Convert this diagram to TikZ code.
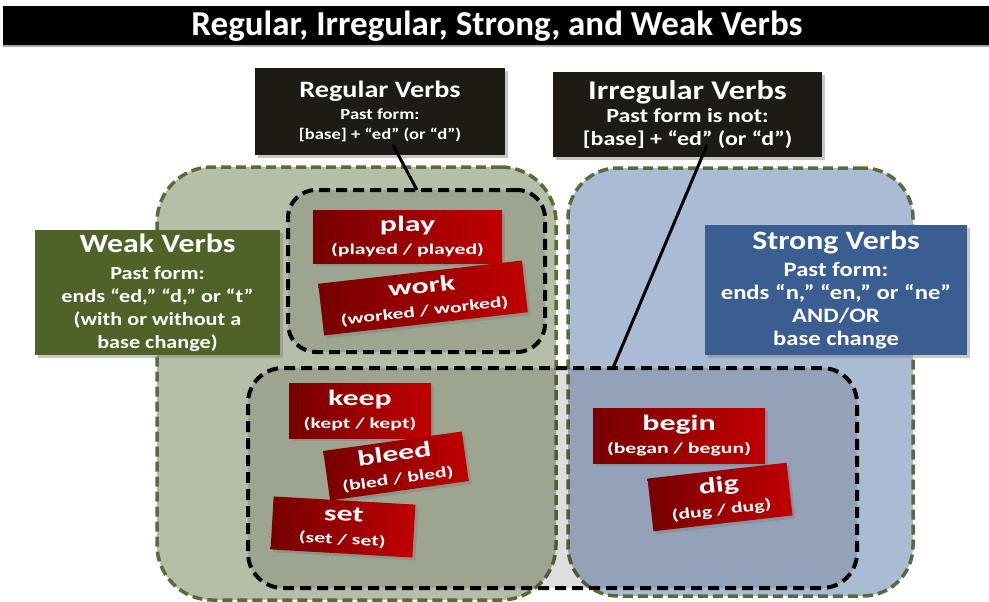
\documentclass[tikz,border=0pt]{standalone}
\usepackage{fontspec}
\setmainfont{Carlito}[FakeStretch=1.2]
\newfontfamily\titlefont{Carlito}
\newfontfamily\cardfont{Carlito}[FakeStretch=1.45]
\usetikzlibrary{shadows}

\definecolor{weakfill}{HTML}{B5BEA6}
\definecolor{strongfill}{HTML}{AABBD4}
\definecolor{regionline}{HTML}{5A6A3A}
\definecolor{headdark}{HTML}{1E1A14}
\definecolor{weakbox}{HTML}{4F6228}
\definecolor{strongbox}{HTML}{3A5E92}
\definecolor{cardlight}{HTML}{C00000}
\definecolor{carddark}{HTML}{760000}

\tikzset{
  region/.style={draw=regionline, line width=3.5pt, dash pattern=on 10pt off 5pt,
    rectangle, inner sep=0pt},
  groupbox/.style={draw=black, line width=4pt, dash pattern=on 11pt off 6pt,
    fill=black, fill opacity=0.13, rectangle, inner sep=0pt},
  labelbox/.style={rectangle, inner sep=0pt, text=white, align=center,
    drop shadow={opacity=0.45, shadow xshift=3pt, shadow yshift=-3pt}},
  card/.style={rectangle, inner sep=0pt, text=white, align=center,
    left color=carddark, right color=cardlight,
    drop shadow={opacity=0.45, shadow xshift=3pt, shadow yshift=-3pt},
    font=\cardfont\fontsize{15}{23}\selectfont\bfseries},
  connector/.style={draw=black, line width=3pt},
}
\newcommand{\cardword}[1]{{\fontsize{22}{22}\selectfont #1}}

\begin{document}
\begin{tikzpicture}[x=1pt, y=-1pt]
\useasboundingbox (0,0) rectangle (989,602);

% title bar
\node[fill=black, minimum width=986pt, minimum height=40pt, inner sep=0pt] (bar) at (496,26) {};
\draw[gray!70, line width=1.5pt] (bar.south west) -- (bar.south east);
\node[text=white, font=\titlefont\fontsize{35}{35}\selectfont\bfseries] (title) at (497,26)
  {Regular, Irregular, Strong, and Weak Verbs};

% weak and strong regions
\node[region, fill=weakfill, rounded corners=55pt, minimum width=399pt, minimum height=433pt]
  (weak) at (356.5,383.5) {};
\node[region, fill=strongfill, rounded corners=50pt, minimum width=345pt, minimum height=428pt]
  (strong) at (740.5,382) {};

% regular and irregular groups
\node[groupbox, rounded corners=35pt, minimum width=609pt, minimum height=220pt]
  (irregular) at (552.5,478) {};
\node[groupbox, rounded corners=28pt, minimum width=257pt, minimum height=162pt]
  (regular) at (416.5,271) {};

% heading boxes
\node[labelbox, fill=headdark, minimum width=250pt, minimum height=87pt,
  font=\fontsize{15.5}{20}\selectfont\bfseries] (reghead) at (380,111.5)
  {{\fontsize{23.5}{23.5}\selectfont Regular Verbs}\\[2pt] Past form:\\ {[base] + “ed” (or “d”)}};
\node[labelbox, fill=headdark, minimum width=269pt, minimum height=85pt,
  font=\fontsize{20}{23}\selectfont\bfseries] (irrhead) at (687.5,114.5)
  {{\fontsize{27}{25}\selectfont Irregular Verbs}\\ Past form is not:\\ {[base] + “ed” (or “d”)}};
\node[labelbox, fill=weakbox, minimum width=245pt, minimum height=125pt,
  font=\fontsize{18.5}{23}\selectfont\bfseries] (weakhead) at (157.5,292.5)
  {{\fontsize{26.5}{24}\selectfont Weak Verbs}\\[4pt] Past form:\\ ends “ed,” “d,” or “t”\\
   {(with or without a}\\ base change)};
\node[labelbox, fill=strongbox, minimum width=262pt, minimum height=130pt,
  font=\fontsize{20.5}{23}\selectfont\bfseries] (stronghead) at (836,290)
  {{\fontsize{26.5}{24}\selectfont Strong Verbs}\\[4pt] Past form:\\ ends “n,” “en,” or “ne”\\
   AND/OR\\ base change};

% verb cards
\node[card, minimum width=189pt, minimum height=53pt] (play) at (407.5,236.5)
  {\cardword{play}\\ {(played / played)}};
\node[card, minimum width=205pt, minimum height=52pt, rotate=6.5] (work) at (423,298)
  {\cardword{work}\\ {(worked / worked)}};
\node[card, minimum width=142pt, minimum height=55pt] (keep) at (360,410.5)
  {\cardword{keep}\\ {(kept / kept)}};
\node[card, minimum width=140pt, minimum height=50pt, rotate=8] (bleed) at (396,466)
  {\cardword{bleed}\\ {(bled / bled)}};
\node[card, minimum width=142pt, minimum height=53pt, rotate=-3.3] (set) at (343,527)
  {\cardword{set}\\ {(set / set)}};
\node[card, minimum width=172pt, minimum height=55pt] (begin) at (679,435.5)
  {\cardword{begin}\\ {(began / begun)}};
\node[card, minimum width=140pt, minimum height=53pt, rotate=6.5] (dig) at (720,497)
  {\cardword{dig}\\ {(dug / dug)}};

% pointers from the headings to their groups
\coordinate (regfoot) at (393,145);
\coordinate (regtip) at (417,190);
\coordinate (irrfoot) at (707,145);
\coordinate (irrtip) at (613,368);
\draw[connector] (regfoot) -- (regtip);
\draw[connector] (irrfoot) -- (irrtip);
\end{tikzpicture}
\end{document}
